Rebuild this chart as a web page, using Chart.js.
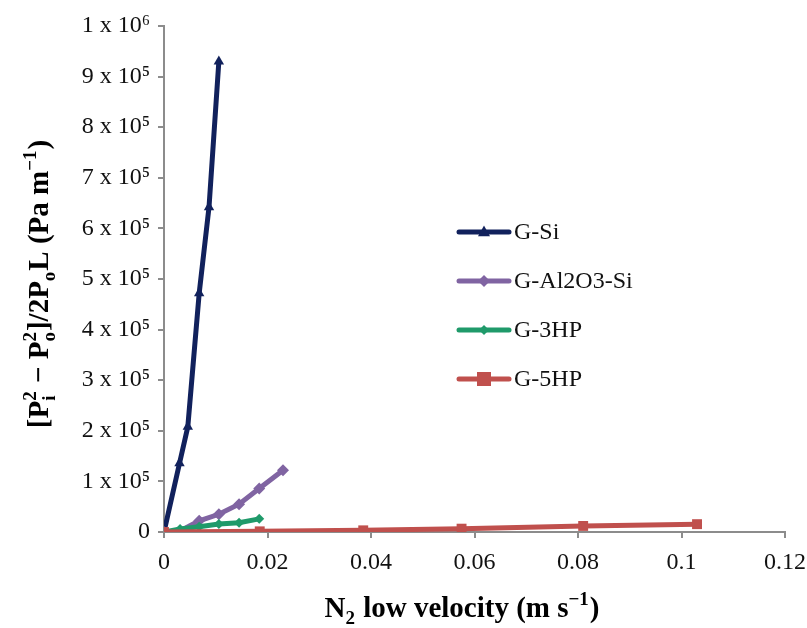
<!DOCTYPE html>
<html>
<head>
<meta charset="utf-8">
<script src="https://cdn.jsdelivr.net/npm/chart.js@4"></script>
<style>
  html, body { margin: 0; padding: 0; background: #fff; }
  #wrap { width: 807px; height: 628px; position: relative; }
</style>
</head>
<body>
<div id="wrap"><canvas id="chart" width="807" height="628"></canvas></div>
<script>
// series data
const siX = [0, 0.0030, 0.0046, 0.0068, 0.0087, 0.0106];
const siY = [0, 136000, 208000, 472000, 642000, 930000];

const alX = [0, 0.0031, 0.0068, 0.0106, 0.0145, 0.0184, 0.0230];
const alY = [0, 2000, 22000, 35000, 55000, 86000, 122000];

const hp3X = [0, 0.0031, 0.0068, 0.0106, 0.0145, 0.0184];
const hp3Y = [0, 6000, 10500, 15800, 18400, 26000];

const hp5X = [0, 0.0185, 0.0385, 0.0575, 0.081, 0.103];
const hp5Y = [0, 1300, 3300, 6600, 12000, 15500];

const seriesNames = ['G-Si', 'G-Al2O3-Si', 'G-3HP', 'G-5HP'];
const seriesColors = ['#11215c', '#8064a2', '#1f9a6a', '#c0504d'];

const SERIF = '"Liberation Serif", "Times New Roman", serif';

function pts(xs, ys) {
    return xs.map(function(x, i) { return { x: x, y: ys[i] }; });
}

// draw text made of pieces: base, sub, sup, or sub+sup stacked
function richWidth(ctx, parts, size) {
    let w = 0;
    parts.forEach(function(p) {
        if (p.base) {
            ctx.font = 'bold ' + size + 'px ' + SERIF;
            w += ctx.measureText(p.base).width;
        } else {
            ctx.font = 'bold ' + Math.round(size * 0.65) + 'px ' + SERIF;
            w += Math.max(ctx.measureText(p.sub || '').width, ctx.measureText(p.sup || '').width) + 1;
        }
    });
    return w;
}

function drawRich(ctx, parts, size, x, y) {
    ctx.textBaseline = 'alphabetic';
    ctx.textAlign = 'left';
    parts.forEach(function(p) {
        if (p.base) {
            ctx.font = 'bold ' + size + 'px ' + SERIF;
            ctx.fillText(p.base, x, y);
            x += ctx.measureText(p.base).width;
        } else {
            ctx.font = 'bold ' + Math.round(size * 0.65) + 'px ' + SERIF;
            let w = 0;
            if (p.sub) {
                ctx.fillText(p.sub, x, y + size * 0.25);
                w = ctx.measureText(p.sub).width;
            }
            if (p.sup) {
                ctx.fillText(p.sup, x, y - size * 0.42);
                w = Math.max(w, ctx.measureText(p.sup).width);
            }
            x += w + 1;
        }
    });
}

const yTitle = [
    { base: '[P' }, { sub: 'i', sup: '2' }, { base: ' \u2212 P' }, { sub: 'o', sup: '2' },
    { base: ']/2P' }, { sub: 'o' }, { base: 'L (Pa m' }, { sup: '\u22121' }, { base: ')' }
];
const xTitle = [
    { base: 'N' }, { sub: '2' }, { base: ' low velocity (m s' }, { sup: '\u22121' }, { base: ')' }
];

function drawMarker(ctx, style, x, y, r) {
    ctx.beginPath();
    if (style === 'triangle') {
        ctx.moveTo(x, y - r * 1.1);
        ctx.lineTo(x + r, y + r * 0.7);
        ctx.lineTo(x - r, y + r * 0.7);
    } else if (style === 'rectRot') {
        ctx.moveTo(x, y - r);
        ctx.lineTo(x + r, y);
        ctx.lineTo(x, y + r);
        ctx.lineTo(x - r, y);
    } else {
        ctx.rect(x - r, y - r, 2 * r, 2 * r);
    }
    ctx.closePath();
    ctx.fill();
}

const titlesAndLegend = {
    id: 'titlesAndLegend',
    afterDraw: function(chart) {
        const ctx = chart.ctx;
        ctx.save();
        ctx.fillStyle = '#000';

        // y axis title, rotated
        const ts = 29;
        const yw = richWidth(ctx, yTitle, ts);
        ctx.save();
        ctx.translate(48, 284);
        ctx.rotate(-Math.PI / 2);
        drawRich(ctx, yTitle, ts, -yw / 2, 0);
        ctx.restore();

        // x axis title
        const xw = richWidth(ctx, xTitle, ts);
        drawRich(ctx, xTitle, ts, 462 - xw / 2, 617);

        // legend
        const rows = [232, 281, 330, 379];
        chart.data.datasets.forEach(function(ds, i) {
            const yy = rows[i];
            ctx.strokeStyle = ds.borderColor;
            ctx.lineWidth = ds.borderWidth;
            ctx.lineCap = 'round';
            ctx.beginPath();
            ctx.moveTo(459, yy);
            ctx.lineTo(509, yy);
            ctx.stroke();
            ctx.fillStyle = ds.backgroundColor;
            drawMarker(ctx, ds.pointStyle, 484, yy, ds.pointRadius);
            ctx.fillStyle = '#111';
            ctx.font = '24px ' + SERIF;
            ctx.textBaseline = 'middle';
            ctx.textAlign = 'left';
            ctx.fillText(ds.label, 514, yy + 1);
        });
        ctx.restore();
    }
};

const styles = ['triangle', 'rectRot', 'rectRot', 'rect'];
const radii = [6, 6, 5, 7];
const allX = [siX, alX, hp3X, hp5X];
const allY = [siY, alY, hp3Y, hp5Y];

const datasets = seriesNames.map(function(name, i) {
    return {
        label: name,
        data: pts(allX[i], allY[i]),
        showLine: true,
        borderColor: seriesColors[i],
        backgroundColor: seriesColors[i],
        borderWidth: 5,
        pointStyle: styles[i],
        pointRadius: radii[i],
        pointHoverRadius: radii[i],
        pointBorderWidth: 0,
        order: 4 - i
    };
});

new Chart(document.getElementById('chart'), {
    type: 'scatter',
    data: { datasets: datasets },
    options: {
        responsive: false,
        animation: false,
        layout: { padding: { top: 26, right: 22, left: 0, bottom: 0 } },
        plugins: {
            legend: { display: false },
            tooltip: { enabled: false }
        },
        scales: {
            x: {
                type: 'linear',
                min: 0,
                max: 0.12,
                ticks: {
                    stepSize: 0.02,
                    color: '#111',
                    font: { family: SERIF, size: 24 },
                    padding: 10,
                    callback: function(v) { return String(Number(v.toFixed(2))); }
                },
                grid: { display: true, drawOnChartArea: false, drawTicks: true, tickLength: 6, color: '#8c8c8c', lineWidth: 2 },
                border: { display: true, color: '#8c8c8c', width: 2 },
                afterFit: function(scale) {
                    scale.height = 96;
                    scale.paddingLeft = 0;
                    scale.paddingRight = 0;
                }
            },
            y: {
                type: 'linear',
                min: 0,
                max: 1000000,
                ticks: {
                    stepSize: 100000,
                    color: '#111',
                    font: { family: SERIF, size: 24 },
                    padding: 8,
                    callback: function(v) {
                        if (v === 0) return '0';
                        if (v === 1000000) return '1 x 10\u2076';
                        return Math.round(v / 100000) + ' x 10\u2075';
                    }
                },
                grid: { display: true, drawOnChartArea: false, drawTicks: true, tickLength: 6, color: '#8c8c8c', lineWidth: 2 },
                border: { display: true, color: '#8c8c8c', width: 2 },
                afterFit: function(scale) { scale.width = 164; }
            }
        }
    },
    plugins: [titlesAndLegend]
});
</script>
</body>
</html>
